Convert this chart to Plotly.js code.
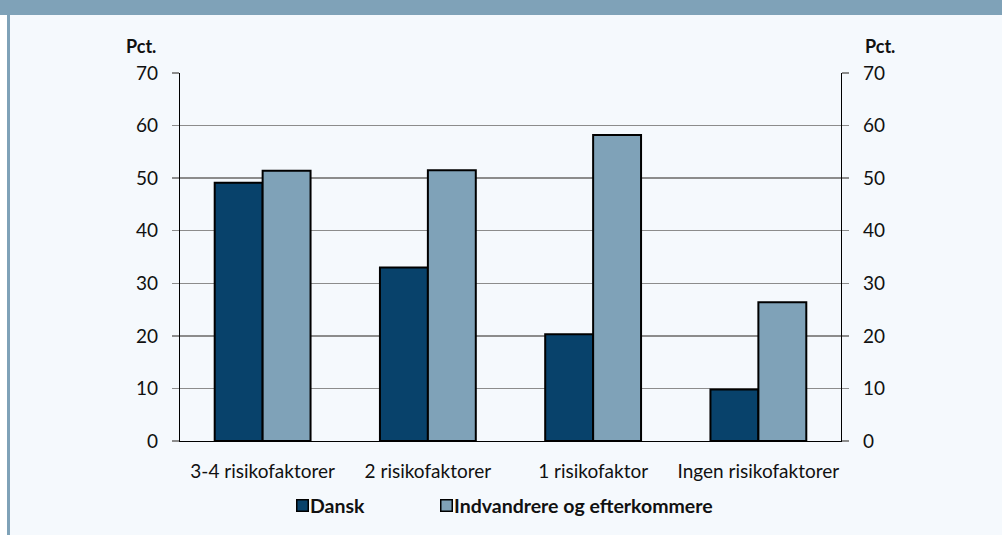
<!DOCTYPE html>
<html>
<head>
<meta charset="utf-8">
<script src="https://cdn.plot.ly/plotly-3.0.1.min.js"></script>
<style>
  html, body { margin:0; padding:0; background:#ffffff; }
  #wrap { position:relative; width:1002px; height:535px; overflow:hidden; }
  #panel { position:absolute; left:10px; top:0; width:992px; height:535px; background:#f5f9fd; }
  #topbar { position:absolute; left:0; top:0; width:1002px; height:15px; background:#7fa2b8; }
  #leftbar { position:absolute; left:7px; top:15px; width:3px; height:520px; background:#7fa2b8; }
  #chart { position:absolute; left:0; top:0; width:1002px; height:535px; }
</style>
</head>
<body>
<div id="wrap">
  <div id="panel"></div>
  <div id="topbar"></div>
  <div id="leftbar"></div>
  <div id="chart"></div>
</div>
<script>
const categories = ["3-4 risikofaktorer", "2 risikofaktorer", "1 risikofaktor", "Ingen risikofaktorer"];
const dansk = [49.1, 33.0, 20.3, 9.8];
const indvandrere = [51.4, 51.5, 58.2, 26.4];
const seriesNames = ["Dansk", "Indvandrere og efterkommere"];
const seriesColors = ["#08426b", "#7fa2b8"];
const yTicks = [0, 10, 20, 30, 40, 50, 60, 70];
const axisTitle = "Pct.";

const font = "Lato, 'Open Sans', sans-serif";

const traces = [
  { type:"bar", name:seriesNames[0], x:categories, y:dansk,
    marker:{ color:seriesColors[0], line:{ color:"#000000", width:2 } } },
  { type:"bar", name:seriesNames[1], x:categories, y:indvandrere,
    marker:{ color:seriesColors[1], line:{ color:"#000000", width:2 } } },
  { type:"scatter", mode:"markers", x:categories, y:indvandrere, yaxis:"y2",
    marker:{ opacity:0 }, showlegend:false, hoverinfo:"skip" }
];

const axisCommon = {
  range:[0,70], tickvals:yTicks, ticktext:yTicks.map(String),
  showgrid:true, gridcolor:"#8c8c8c", gridwidth:1.5,
  ticks:"outside", ticklen:7, tickcolor:"#8c8c8c", tickwidth:1.5,
  showline:true, linecolor:"#000000", linewidth:1.2,
  zeroline:false, fixedrange:true, automargin:false,
  tickfont:{ family:font, size:19, color:"#111111" }
};

// custom legend (squares + labels) in paper coordinates
const plotL = 180, plotW = 661, plotT = 73, plotH = 368;
const px = v => (v - plotL) / plotW;
const py = v => 1 - (v - plotT) / plotH;
const legendSquares = [296, 440];
const legendY = 505;
const legendAnn = [];
seriesNames.forEach((n, i) => {
  legendAnn.push({ text:"", xref:"paper", yref:"paper", x:px(legendSquares[i]), y:py(legendY),
    xanchor:"left", yanchor:"middle", showarrow:false, width:10, height:10,
    bgcolor:seriesColors[i], bordercolor:"#000000", borderwidth:1.5, borderpad:0 });
  legendAnn.push({ text:"<b>"+n+"</b>", xref:"paper", yref:"paper", x:px(legendSquares[i]+13), y:py(legendY),
    xanchor:"left", yanchor:"middle", showarrow:false, borderpad:0,
    font:{ family:font, size:19.5, color:"#111111" } });
});

const layout = {
  width:1002, height:535,
  paper_bgcolor:"rgba(0,0,0,0)", plot_bgcolor:"rgba(0,0,0,0)",
  margin:{ l:180, r:161, t:73, b:94 },
  barmode:"group", bargap:0.42, bargroupgap:0,
  showlegend:false,
  xaxis:{ type:"category", showline:true, linecolor:"#000000", linewidth:1.2,
          ticks:"", ticklabelstandoff:13, tickfont:{ family:font, size:19, color:"#111111" },
          automargin:false, fixedrange:true },
  yaxis:Object.assign({}, axisCommon, { side:"left", ticklabelstandoff:10 }),
  yaxis2:Object.assign({}, axisCommon, { side:"right", overlaying:"y", showgrid:false, ticklabelstandoff:10 }),
  annotations:[
    { text:"<b>"+axisTitle+"</b>", xref:"paper", yref:"paper", x:px(158), y:py(46),
      xanchor:"right", yanchor:"middle", showarrow:false,
      font:{ family:font, size:18, color:"#111111" } },
    { text:"<b>"+axisTitle+"</b>", xref:"paper", yref:"paper", x:px(863), y:py(46),
      xanchor:"left", yanchor:"middle", showarrow:false,
      font:{ family:font, size:18, color:"#111111" } }
  ].concat(legendAnn)
};

Plotly.newPlot("chart", traces, layout, { displayModeBar:false, staticPlot:true });
</script>
</body>
</html>
